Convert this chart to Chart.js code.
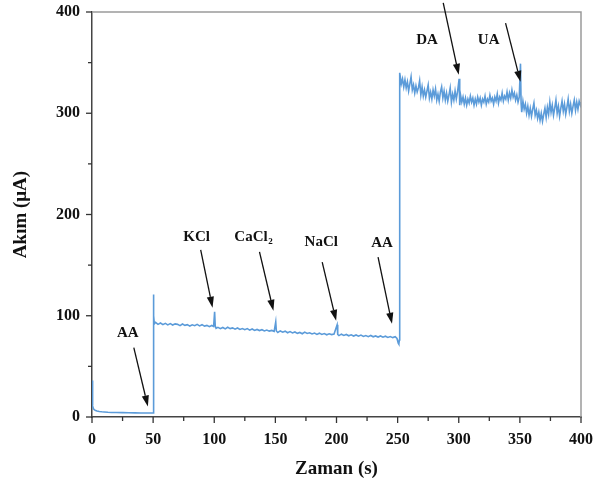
<!DOCTYPE html>
<html>
<head>
<meta charset="utf-8">
<script src="https://cdn.jsdelivr.net/npm/chart.js@4.4.1/dist/chart.umd.min.js"></script>
<style>
html,body{margin:0;padding:0;background:#fff;}
#wrap{width:606px;height:486px;}
</style>
</head>
<body>
<div id="wrap"><canvas id="c" width="606" height="486"></canvas></div>
<script>
// ---- data ----
const times = [
 0,0.3,0.7,1.2,2,3,4,6,8,10,13,16,20,25,30,35,40,45,49.7,
 50.0,50.2,50.6,51,
 52,54,56,58,60,62,64,66,68,70,72,74,76,78,80,82,84,86,88,90,92,94,96,98,99.5,
 100.3,100.8,101.5,103,105,107,109,111,113,115,117,119,121,123,125,127,129,131,133,135,137,139,141,143,145,147,149,
 150.3,150.8,152,154,156,158,160,162,164,166,168,170,172,174,176,178,180,182,184,186,188,190,192,194,196,198,
 200.5,201,202,204,206,208,210,212,214,216,218,220,222,224,226,228,230,232,234,236,238,240,242,244,246,248,249.5,
 250.5,251,251.4,251.7,
 252.2,253,254,255,256,257,258,259,260,261,262,263,264,265,266,267,268,269,270,271,272,273,274,275,276,277,278,279,280,
 281,282,283,284,285,286,287,288,289,290,291,292,293,294,295,296,297,298,299,
 300.3,300.8,301.5,302.5,303.5,304.5,305.5,306.5,307.5,308.5,309.5,310.5,311.5,312.5,313.5,314.5,315.5,316.5,317.5,318.5,319.5,
 320.5,321.5,322.5,323.5,324.5,325.5,326.5,327.5,328.5,329.5,330.5,331.5,332.5,333.5,334.5,335.5,336.5,337.5,338.5,339.5,
 340.5,341.5,342.5,343.5,344.5,345.5,346.5,347.5,348.5,349.5,
 350.5,351,351.5,352.5,353.5,354.5,355.5,356.5,357.5,358.5,359.5,
 360.5,361.5,362.5,363.5,364.5,365.5,366.5,367.5,368.5,369.5,370.5,371.5,372.5,373.5,374.5,375.5,376.5,377.5,378.5,379.5,
 380.5,381.5,382.5,383.5,384.5,385.5,386.5,387.5,388.5,389.5,390.5,391.5,392.5,393.5,394.5,395.5,396.5,397.5,398.5,399.5,400
];
const current = [
 36,20,11,8,7,6.5,6,5.5,5.2,5,4.7,4.5,4.4,4.3,4.2,4.1,4.0,4.0,3.9,
 4.0,121,100,92,
 93.5,91.5,92.8,91.2,92.5,91,92.2,90.8,92,91.5,90.2,91.8,90.5,91.2,89.8,91,90.2,91.5,90,91.2,89.8,90.5,89.2,90.4,89.5,
 104,90,87.5,88.5,87.2,88.4,87,88.6,87.3,88,86.8,87.9,86.5,87.4,86.2,87.3,85.8,86.9,85.5,86.5,85.4,86.2,85,85.9,84.8,85.5,84.6,
 94,85,83.5,85,83.8,84.8,83.2,84.3,83,84,82.6,83.5,82.2,83.8,82.5,83.2,82,82.9,81.6,82.8,81.5,82.4,81.2,82.2,81.4,82,
 91,81.5,80.4,81.8,80.6,81.5,80.2,81.2,80,81,79.8,80.9,79.6,80.5,79.4,80.5,79.2,80.1,79,80,78.8,79.8,78.6,79.5,78.4,79.3,77.5,
 73,72,76,340,
 336,329,334,326,333,325,331,322,329,336,323,328,320,327,321,325,332,318,326,317,323,316,322,328,315,321,314,323,317,
 324,313,319,312,321,326,315,322,313,320,312,318,325,311,319,313,322,314,321,
 334,308,318,311,316,309,315,308,314,310,317,311,315,308,314,309,316,311,315,308,314,
 311,317,309,314,311,318,312,315,309,316,312,319,310,316,313,320,312,317,314,321,
 313,320,315,323,316,320,313,318,311,316,
 349,310,301,312,304,309,300,307,298,305,297,
 304,310,298,303,295,301,293,300,292,299,305,296,306,299,311,301,308,298,305,313,
 300,307,297,305,312,302,309,299,306,314,302,309,300,307,313,303,311,304,312,308,311
];
const xTickValues = [0,50,100,150,200,250,300,350,400];
const yTickValues = [0,100,200,300,400];

// annotation labels (text) with anchor/arrow in data coordinates
const annotations = [
 {text:'AA',   tx:29.3, ty:83,  ax1:34.2, ay1:68.6, ax2:45.7, ay2:10.4},
 {text:'KCl',  tx:85.6, ty:178, ax1:88.9, ay1:165,  ax2:98.6, ay2:108},
 {text:'CaCl', sub:'2', tx:132.5, ty:178, ax1:137, ay1:163, ax2:148.4, ay2:105},
 {text:'NaCl', tx:187.5, ty:173, ax1:188.3, ay1:153, ax2:199.7, ay2:95},
 {text:'AA',   tx:237.2, ty:172, ax1:234, ay1:158, ax2:245.4, ay2:92},
 {text:'DA',   tx:274, ty:372, ax1:287.3, ay1:409, ax2:300, ay2:338},
 {text:'UA',   tx:324.5, ty:372, ax1:338.3, ay1:389, ax2:350.5, ay2:331}
];

const SERIF = '"Liberation Serif","DejaVu Serif",serif';

function arrow(ctx,x1,y1,x2,y2){
  const ang = Math.atan2(y2-y1,x2-x1);
  const hl = 11, hw = 3.6;
  const bx = x2 - hl*Math.cos(ang), by = y2 - hl*Math.sin(ang);
  ctx.beginPath();
  ctx.moveTo(x1,y1); ctx.lineTo(bx,by);
  ctx.stroke();
  ctx.beginPath();
  ctx.moveTo(x2,y2);
  ctx.lineTo(bx + hw*Math.sin(ang), by - hw*Math.cos(ang));
  ctx.lineTo(bx - hw*Math.sin(ang), by + hw*Math.cos(ang));
  ctx.closePath();
  ctx.fill();
}

const decor = {
  id:'decor',
  beforeDraw(chart){
    const ctx = chart.ctx;
    ctx.save(); ctx.fillStyle='#fff'; ctx.fillRect(0,0,chart.width,chart.height); ctx.restore();
  },
  afterDraw(chart){
    const ctx = chart.ctx, a = chart.chartArea;
    const xs = chart.scales.x, ys = chart.scales.y;
    ctx.save();
    // top & right frame
    ctx.strokeStyle = '#9a9a9a'; ctx.lineWidth = 1.5;
    ctx.beginPath();
    ctx.moveTo(a.left, a.top); ctx.lineTo(a.right, a.top); ctx.lineTo(a.right, a.bottom);
    ctx.stroke();
    // ticks
    ctx.strokeStyle = '#333'; ctx.lineWidth = 1.3;
    xs.ticks.forEach(t=>{
      const px = xs.getPixelForValue(t.value);
      const len = (t.value % 50 === 0) ? 6 : 4;
      ctx.beginPath(); ctx.moveTo(px, a.bottom); ctx.lineTo(px, a.bottom + len); ctx.stroke();
    });
    ys.ticks.forEach(t=>{
      const py = ys.getPixelForValue(t.value);
      const len = (t.value % 100 === 0) ? 6 : 4;
      ctx.beginPath(); ctx.moveTo(a.left, py); ctx.lineTo(a.left - len, py); ctx.stroke();
    });
    // annotations
    ctx.fillStyle = '#111'; ctx.strokeStyle = '#111'; ctx.lineWidth = 1.3;
    ctx.font = 'bold 15px ' + SERIF;
    ctx.textAlign = 'center'; ctx.textBaseline = 'middle';
    annotations.forEach(an=>{
      const tx = xs.getPixelForValue(an.tx), ty = ys.getPixelForValue(an.ty);
      if(an.sub){
        ctx.textAlign = 'left';
        const w = ctx.measureText(an.text).width;
        const sx = tx - w/2 - 3;
        ctx.fillText(an.text, sx, ty);
        ctx.font = 'bold 9px ' + SERIF;
        ctx.fillText(an.sub, sx + w + 0.5, ty + 5);
        ctx.font = 'bold 15px ' + SERIF;
        ctx.textAlign = 'center';
      } else {
        ctx.fillText(an.text, tx, ty);
      }
      arrow(ctx, xs.getPixelForValue(an.ax1), ys.getPixelForValue(an.ay1),
                 xs.getPixelForValue(an.ax2), ys.getPixelForValue(an.ay2));
    });
    ctx.restore();
  }
};

new Chart(document.getElementById('c'), {
  type:'line',
  data:{
    datasets:[{
      data: times.map((t,i)=>({x:t, y:current[i]})),
      borderColor:'#5b9bd9',
      borderWidth:1.6,
      pointRadius:0,
      tension:0,
      fill:false
    }]
  },
  options:{
    responsive:false,
    animation:false,
    events:[],
    layout:{padding:{top:12, right:24, left:4, bottom:0}},
    plugins:{legend:{display:false}, tooltip:{enabled:false}},
    scales:{
      x:{
        type:'linear', min:0, max:400,
        afterBuildTicks(scale){
          const arr=[]; for(let v=0; v<=400; v+=25) arr.push({value:v});
          scale.ticks = arr;
        },
        afterFit(scale){ scale.height = 69; },
        grid:{display:false, drawTicks:false},
        border:{display:true, color:'#444', width:1.5},
        ticks:{
          autoSkip:false, maxRotation:0, padding:13,
          color:'#111',
          font:{family:SERIF, weight:'bold', size:16},
          callback:(v)=> xTickValues.includes(v) ? String(v) : ''
        },
        title:{display:true, text:'Zaman (s)', color:'#111',
          font:{family:SERIF, weight:'bold', size:19}, padding:{top:0,bottom:6}}
      },
      y:{
        type:'linear', min:0, max:400,
        afterBuildTicks(scale){
          const arr=[]; for(let v=0; v<=400; v+=50) arr.push({value:v});
          scale.ticks = arr;
        },
        afterFit(scale){ scale.width = 88; scale.paddingTop = 0; scale.paddingBottom = 0; },
        grid:{display:false, drawTicks:false},
        border:{display:true, color:'#444', width:1.5},
        ticks:{
          autoSkip:false, padding:12,
          color:'#111',
          font:{family:SERIF, weight:'bold', size:16},
          callback:(v)=> yTickValues.includes(v) ? String(v) : ''
        },
        title:{display:true, text:'Akım (μA)', color:'#111',
          font:{family:SERIF, weight:'bold', size:19}, padding:{top:6,bottom:0}}
      }
    }
  },
  plugins:[decor]
});
</script>
</body>
</html>
